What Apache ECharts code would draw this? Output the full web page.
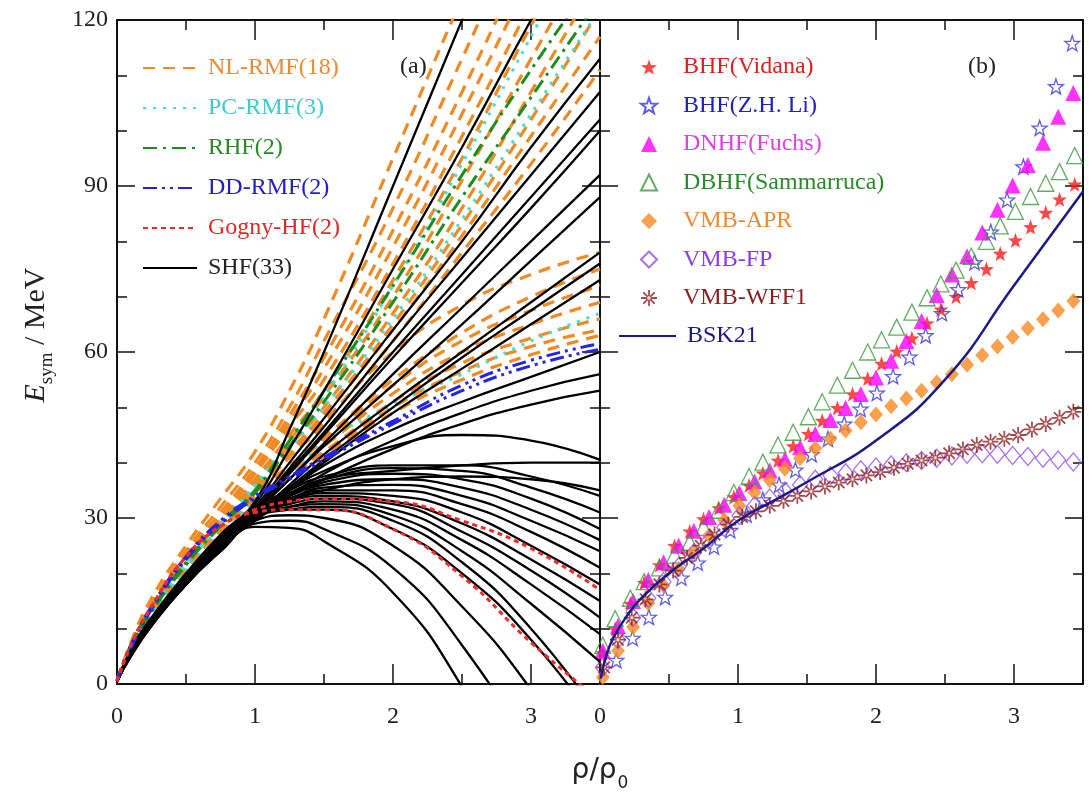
<!DOCTYPE html>
<html><head><meta charset="utf-8">
<script src="https://cdn.jsdelivr.net/npm/echarts/dist/echarts.min.js"></script>
<style>html,body{margin:0;padding:0;background:#fff}#c{width:1089px;height:803px}</style>
</head><body><div id="c"></div>
<script>
// ---------- Panel (a): density grid and curves ----------
const RHO = [0, 0.1, 0.25, 0.5, 0.75, 1, 1.25, 1.5, 2, 2.5, 3, 3.5];
const NL_RMF = [
  [0.5, 7.5, 15.5, 25, 33.5, 42, 53, 66, 95, 124, 152, 180],
  [0.5, 7, 14.5, 24, 32, 40, 50, 62, 86, 113, 140, 165],
  [0.5, 7, 14, 23.5, 31, 39, 48.5, 59, 82, 107, 133, 158],
  [0.5, 7, 14, 23, 30.5, 38.5, 47.5, 57, 79, 103, 128, 153],
  [0.5, 7, 13.5, 23, 30, 38, 46.5, 55, 76, 99, 123, 147],
  [0.5, 6.5, 13.5, 22.5, 29.5, 37, 45, 53, 73, 95, 119, 142],
  [0.5, 6.5, 13, 22, 29, 36.5, 44, 52, 70, 91, 113, 135],
  [0.5, 6.5, 13, 22, 29, 36, 43, 50, 67, 86, 107, 128],
  [0.5, 6.5, 13, 21.5, 28.5, 35.5, 42, 49, 65, 83, 102, 122],
  [0.5, 6.5, 12.5, 21.5, 28.5, 35, 41.5, 48.5, 64, 81, 99, 117],
  [0.5, 6.5, 12.5, 21, 28, 35, 41, 47, 62, 78, 94, 111],
  [0.5, 6, 12.5, 21, 28, 34.5, 41, 47.5, 60, 68.5, 74, 78],
  [0.5, 6, 12.5, 21, 28, 34.5, 39.5, 44.5, 55, 63.5, 70, 75],
  [0.5, 6, 12, 20.5, 27.5, 34, 39, 44, 54, 62, 67.5, 72],
  [0.5, 6, 12, 20.5, 27.5, 33.5, 38.5, 43, 52.5, 60, 65, 69],
  [0.5, 6, 12, 20.5, 27, 33.5, 38, 42, 51, 58, 62.5, 66],
  [0.5, 6, 12, 20, 27, 33, 37.5, 41.5, 50, 56.5, 61, 64],
  [0.5, 6, 12, 20, 27, 33, 37, 41, 49, 55, 59.5, 63]
];
const PC_RMF = [
  [0.5, 6.5, 13, 22, 29, 36, 44, 52, 72, 94, 117, 140],
  [0.5, 6.5, 13, 21.5, 28.5, 35.5, 42.5, 50, 66, 84, 103, 122],
  [0.5, 6, 12, 20.5, 27, 33, 38, 43.5, 50.5, 56, 62, 67]
];
const RHF = [
  [0.5, 7, 13.5, 22, 29, 35, 44, 53, 72, 92, 111, 129],
  [0.5, 6.5, 13, 21.5, 28.5, 34.5, 43, 51, 69, 88, 106, 124]
];
const DD_RMF = [
  [0.5, 7, 14, 23, 29.5, 34, 37.5, 41, 47.5, 54, 58.5, 61.5],
  [0.5, 6.5, 13.5, 22.5, 29, 33.5, 37, 40.5, 47, 53, 57.5, 60.5]
];
const GOGNY_HF = [
  [0.5, 7, 14, 23, 28.5, 31.5, 33, 33.5, 33, 29.5, 24.5, 17],
  [0.5, 7, 14, 23, 28.5, 31, 31.5, 31.5, 28, 19.5, 7.5, -3]
];
const SHF = [
  [0.5, 6, 12, 20, 27, 33, 46, 60, 90, 120, 150, 180],
  [0.5, 6, 12, 19.5, 26.5, 32.5, 42.5, 53, 75, 97, 120, 142],
  [0.5, 6, 11.5, 19.5, 26, 32, 40, 48, 64, 80, 97, 113],
  [0.5, 5.5, 11.5, 19, 26, 31.5, 39, 46.5, 62, 77, 92, 107],
  [0.5, 5.5, 11.5, 19, 25.5, 31.5, 38.5, 45.5, 60, 74, 88, 102],
  [0.5, 5.5, 11, 19, 25.5, 31, 38, 45, 59, 72.5, 86, 100],
  [0.5, 5.5, 11, 18.5, 25, 31, 37, 43.5, 56, 68, 80, 92],
  [0.5, 5.5, 11, 18.5, 25, 31, 37, 43, 54, 65, 76.5, 88],
  [0.5, 5.5, 11, 18.5, 25, 30.5, 36, 41.5, 51, 60, 69, 78],
  [0.5, 5.5, 11, 18.5, 25, 30.5, 35.5, 40.5, 50, 59, 67.5, 76],
  [0.5, 5.5, 11, 18.5, 25, 30, 35, 40, 49, 57, 65, 73],
  [0.5, 5.5, 11, 18.5, 24.5, 30.5, 35, 39.5, 46, 51, 55.5, 60],
  [0.5, 5.5, 11, 18.5, 24.5, 30, 34, 38, 44, 49, 53, 56],
  [0.5, 5.5, 11, 18.5, 24.5, 30, 34, 37, 42.5, 47, 50.5, 53],
  [0.5, 5.5, 11, 18.5, 24.5, 30, 35, 38.5, 43, 45, 44, 40.5],
  [0.5, 5.5, 11, 18, 24.5, 30, 34, 37, 38.5, 39.5, 40, 40],
  [0.5, 5.5, 11, 18, 24.5, 29.5, 33, 35, 37, 37.5, 37, 35],
  [0.5, 5.5, 11, 18.5, 25, 31.5, 35, 37.5, 39.5, 39.5, 37.5, 34],
  [0.5, 5.5, 11, 18.5, 25, 31, 34.5, 37, 39, 38.5, 35.5, 31],
  [0.5, 5.5, 11, 18.5, 25, 31, 34, 36.5, 38, 37, 33.5, 28],
  [0.5, 5.5, 11, 18.5, 25, 31, 34, 36, 37, 35.5, 31.5, 26],
  [0.5, 5.5, 11, 18.5, 25, 31, 33.5, 35.5, 36, 34, 29.5, 24],
  [0.5, 5.5, 11, 18.5, 25, 31, 33.5, 35, 35, 32.5, 27.5, 21],
  [0.5, 5.5, 11, 18.5, 24.5, 30.5, 33, 34.5, 34, 31, 25, 18],
  [0.5, 5.5, 11, 18.5, 24.5, 30.5, 33, 34, 33, 29, 22.5, 15],
  [0.5, 5.5, 11, 18, 24.5, 30.5, 32.5, 33.5, 32.5, 27.5, 20.5, 12],
  [0.5, 5.5, 11, 18, 24.5, 30, 32, 33, 31.5, 26, 18, 9],
  [0.5, 5.5, 11, 18, 24.5, 30, 32, 32.5, 30.5, 24, 14.5, 4],
  [0.5, 5.5, 11, 18, 24.5, 30, 31.5, 32, 29.5, 22, 10, -6],
  [0.5, 5.5, 11, 18, 24.5, 30, 31.5, 31.5, 28, 20, 8, -8],
  [0.5, 5, 10.5, 18, 24, 29.5, 30.5, 30, 25, 14, -1, -20],
  [0.5, 5, 10.5, 18, 24, 29, 29.5, 28, 21, 7, -13, -38],
  [0.5, 5, 10.5, 18, 24, 28.4, 28.2, 25.8, 16.5, -0.5, -24, -50]
];

// ---------- Panel (b) ----------
const RHO_A = [0.02, 0.11, 0.22, 0.32, 0.43, 0.54, 0.65, 0.75, 0.86, 0.97, 1.08, 1.18, 1.29, 1.40, 1.51, 1.61, 1.72, 1.83, 1.94, 2.04, 2.15, 2.26, 2.37, 2.47, 2.58, 2.69, 2.80, 2.90, 3.01, 3.12, 3.23, 3.33, 3.44];
const BHF_VIDANA = [5.6, 10, 14.5, 18.3, 21.5, 25, 27.6, 29.8, 31.8, 33.8, 35.9, 38.1, 40.4, 43, 45.2, 47.6, 49.9, 52.4, 55.2, 57.9, 60.1, 62.5, 65.2, 67.7, 70, 72.5, 75, 77.8, 80.2, 82.6, 85.2, 87.6, 90.3];
const DBHF_SAMMARRUCA = [7, 11.8, 15.5, 18.5, 21, 23.3, 25.6, 28.3, 31.4, 34.6, 37.5, 40.1, 43.2, 45.5, 48.3, 51, 54, 56.7, 60, 62.2, 64.5, 67.2, 69.8, 72.3, 74.8, 77.3, 80, 82.8, 85.4, 88.1, 90.5, 92.6, 95.5];
const RHO_LI = [0.118, 0.236, 0.354, 0.472, 0.59, 0.708, 0.826, 0.944, 1.062, 1.18, 1.298, 1.416, 1.534, 1.652, 1.77, 1.888, 2.006, 2.124, 2.242, 2.36, 2.478, 2.596, 2.714, 2.832, 2.95, 3.068, 3.186, 3.304, 3.422];
const BHF_LI = [4.3, 8.3, 12.1, 15.7, 19.2, 21.9, 24.8, 27.8, 30.6, 33.3, 36, 38.7, 41.5, 44.3, 47, 49.7, 52.6, 55.6, 59.1, 63, 67, 71.3, 76.2, 81.7, 87.5, 93.5, 100.5, 108, 115.8];
const RHO_VMB = [0.02, 0.13, 0.24, 0.35, 0.46, 0.57, 0.68, 0.79, 0.90, 1.01, 1.12, 1.23, 1.34, 1.45, 1.56, 1.67, 1.78, 1.89, 2.00, 2.11, 2.22, 2.33, 2.44, 2.55, 2.66, 2.77, 2.88, 2.99, 3.10, 3.21, 3.32, 3.43];
const DNHF_FUCHS = [6, 10.5, 15, 18.8, 22, 25, 27.7, 30.2, 32.4, 34.5, 36.6, 38.6, 40.6, 42.8, 45.2, 47.7, 49.9, 52.4, 55.4, 58.4, 62, 65.6, 70.3, 74, 77.3, 81.6, 85.7, 90.1, 93.8, 97.8, 102.5, 106.8];
const VMB_APR = [1.2, 6, 10.3, 14.6, 17.8, 20.8, 23.8, 26.8, 29.6, 32.2, 34.6, 36.8, 38.9, 40.8, 42.6, 44.3, 45.8, 47.3, 48.7, 50.2, 51.6, 53, 54.5, 56, 57.7, 59.4, 61, 62.7, 64.3, 65.9, 67.5, 69.2];
const VMB_FP = [3, 8, 12, 15.5, 18.5, 21.2, 23.7, 26, 28.3, 30.4, 32.2, 33.6, 34.9, 36, 37, 37.7, 38.2, 38.7, 39.2, 39.6, 40, 40.4, 40.8, 41.2, 41.5, 41.6, 41.5, 41.3, 41.1, 40.8, 40.5, 40.1];
const RHO_WFF = [0.03, 0.13, 0.23, 0.33, 0.43, 0.53, 0.63, 0.73, 0.83, 0.93, 1.03, 1.13, 1.23, 1.33, 1.43, 1.53, 1.63, 1.73, 1.83, 1.93, 2.03, 2.13, 2.23, 2.33, 2.43, 2.53, 2.63, 2.73, 2.83, 2.93, 3.03, 3.13, 3.23, 3.33, 3.43];
const VMB_WFF1 = [3, 8, 12, 15.3, 18, 20.5, 22.8, 25, 27, 28.8, 30.2, 31.2, 32.2, 33.1, 34, 34.8, 35.7, 36.4, 37, 37.7, 38.3, 39.1, 39.8, 40.4, 40.9, 41.7, 42.4, 43.2, 43.8, 44.3, 45, 46, 47, 48.1, 49.2];
const RHO_BSK = [0.005, 0.05, 0.1, 0.2, 0.3, 0.5, 0.75, 1, 1.25, 1.5, 2, 2.5, 3, 3.5];
const BSK21 = [1, 5.5, 8.5, 12.5, 15.5, 20, 24.5, 29.5, 33, 36.5, 44, 55, 72, 89];

const X_MIN = 0, X_MAX = 3.5, Y_MIN = 0, Y_MAX = 120;
const SERIF = 'Liberation Serif';

const STAR = 'path://M0,-10L2.35,-3.24L9.51,-3.09L3.8,1.24L5.88,8.09L0,4.4L-5.88,8.09L-3.8,1.24L-9.51,-3.09L-2.35,-3.24Z';
const ASTER = 'path://M-10,-1.1L10,-1.1L10,1.1L-10,1.1Z M-1.1,-10L1.1,-10L1.1,10L-1.1,10Z M6.29,7.85L7.85,6.29L-6.29,-7.85L-7.85,-6.29Z M7.85,-6.29L6.29,-7.85L-7.85,6.29L-6.29,7.85Z';

const series = [];
function addLines(name, curves, color, width, dash, z) {
  curves.forEach(vals => series.push({
    type: 'line', name, xAxisIndex: 0, yAxisIndex: 0,
    data: RHO.map((x, i) => [x, vals[i]]),
    symbol: 'none', showSymbol: false, smooth: 0.5, clip: true, silent: true,
    lineStyle: { color, width, type: dash, cap: 'butt' }, itemStyle: { color }, z
  }));
}
addLines('NL-RMF(18)', NL_RMF, '#f28a24', 3.2, [12, 8], 2);
addLines('PC-RMF(3)', PC_RMF, '#3fe0d8', 3, [3, 7], 3);
addLines('RHF(2)', RHF, '#1f8c1f', 3, [14, 6, 3, 6], 4);
addLines('SHF(33)', SHF, '#000000', 2.3, 'solid', 5);
addLines('DD-RMF(2)', DD_RMF, '#2424e6', 3, [14, 5, 3, 5, 3, 5], 6);
addLines('Gogny-HF(2)', GOGNY_HF, '#f22a2a', 3, [5, 4], 7);

function addScatter(name, xs, ys, symbol, size, fill, stroke, bw) {
  series.push({
    type: 'scatter', name, xAxisIndex: 4, yAxisIndex: 4, silent: true, clip: true,
    data: xs.map((x, i) => [x, ys[i]]), symbol, symbolSize: size,
    itemStyle: { color: fill, borderColor: stroke, borderWidth: bw }
  });
}
addScatter('BHF(Vidana)', RHO_A, BHF_VIDANA, STAR, 15, '#ff1a1a', '#ff1a1a', 0);
addScatter('BHF(Z.H. Li)', RHO_LI, BHF_LI, STAR, 15, 'rgba(255,255,255,0)', '#3535e0', 1.3);
addScatter('DNHF(Fuchs)', RHO_VMB, DNHF_FUCHS, 'triangle', 16, '#ff00ff', '#ff00ff', 0);
addScatter('DBHF(Sammarruca)', RHO_A, DBHF_SAMMARRUCA, 'triangle', 16, 'rgba(255,255,255,0)', '#3a9a3a', 1.3);
addScatter('VMB-APR', RHO_VMB, VMB_APR, 'diamond', [14, 16], '#f7891f', '#f7891f', 0);
addScatter('VMB-FP', RHO_VMB, VMB_FP, 'diamond', [15, 18], 'rgba(255,255,255,0)', '#9050f0', 1.3);
addScatter('VMB-WFF1', RHO_WFF, VMB_WFF1, ASTER, 16, '#8b1a1a', '#8b1a1a', 0);
series.push({
  type: 'line', name: 'BSK21', xAxisIndex: 4, yAxisIndex: 4, silent: true, clip: true,
  data: RHO_BSK.map((x, i) => [x, BSK21[i]]), symbol: 'none', showSymbol: false,
  smooth: 0.5, lineStyle: { color: '#1a1a8a', width: 2.5 }, itemStyle: { color: '#1a1a8a' }, z: 10
});

const AX = { color: '#111', width: 2 };
function xAx(grid, pos, interval, len, labels, line) {
  return {
    type: 'value', gridIndex: grid, position: pos, min: X_MIN, max: X_MAX, interval,
    splitLine: { show: false },
    axisLine: { show: line, onZero: false, lineStyle: AX },
    axisTick: { show: true, inside: true, length: len, lineStyle: { color: '#111', width: 1.5 } },
    axisLabel: { show: labels, margin: 21, fontFamily: SERIF, fontSize: 24, color: '#222', showMaxLabel: false }
  };
}
function yAx(grid, pos, interval, len, labels, line) {
  return {
    type: 'value', gridIndex: grid, position: pos, min: Y_MIN, max: Y_MAX, interval,
    splitLine: { show: false },
    axisLine: { show: line, onZero: false, lineStyle: AX },
    axisTick: { show: true, inside: true, length: len, lineStyle: { color: '#111', width: 1.5 } },
    axisLabel: { show: labels, margin: 9, fontFamily: SERIF, fontSize: 24, color: '#222' }
  };
}
const GL = { left: 117, top: 20, width: 483, height: 664 };
const GR = { left: 600, top: 20, width: 483, height: 664 };

const lineLegendBase = {
  orient: 'vertical', padding: 0, selectedMode: false, itemGap: 16,
  itemStyle: { opacity: 0 },
  textStyle: { fontFamily: SERIF, fontSize: 24, lineHeight: 24, padding: [0, 0, 0, 6] }
};

const option = {
  animation: false,
  backgroundColor: '#fff',
  grid: [
    Object.assign({}, GL), Object.assign({}, GL),
    Object.assign({}, GR), Object.assign({}, GR)
  ],
  xAxis: [
    xAx(0, 'bottom', 1, 20, true, true), xAx(0, 'top', 1, 20, false, true),
    xAx(1, 'bottom', 0.5, 10, false, false), xAx(1, 'top', 0.5, 10, false, false),
    xAx(2, 'bottom', 1, 20, true, true), xAx(2, 'top', 1, 20, false, true),
    xAx(3, 'bottom', 0.5, 10, false, false), xAx(3, 'top', 0.5, 10, false, false)
  ],
  yAxis: [
    yAx(0, 'left', 30, 18, true, true), yAx(0, 'right', 30, 18, false, true),
    yAx(1, 'left', 10, 10, false, false), yAx(1, 'right', 10, 10, false, false),
    yAx(2, 'left', 30, 18, false, true), yAx(2, 'right', 30, 18, false, true),
    yAx(3, 'left', 10, 10, false, false), yAx(3, 'right', 10, 10, false, false)
  ],
  legend: [
    Object.assign({}, lineLegendBase, {
      left: 142, top: 56, itemWidth: 54, itemHeight: 14,
      data: [
        { name: 'NL-RMF(18)', textStyle: { color: '#ee8a30' } },
        { name: 'PC-RMF(3)', textStyle: { color: '#3ccccc' } },
        { name: 'RHF(2)', textStyle: { color: '#2a8a2a' } },
        { name: 'DD-RMF(2)', textStyle: { color: '#2020c8' } },
        { name: 'Gogny-HF(2)', textStyle: { color: '#e02828' } },
        { name: 'SHF(33)', textStyle: { color: '#222' } }
      ]
    }),
    {
      orient: 'vertical', padding: 0, selectedMode: false, itemGap: 14.5,
      left: 640, top: 55, itemWidth: 16, itemHeight: 16,
      textStyle: { fontFamily: SERIF, fontSize: 24, lineHeight: 24, padding: [0, 0, 0, 21] },
      data: [
        { name: 'BHF(Vidana)', textStyle: { color: '#e02020' } },
        { name: 'BHF(Z.H. Li)', textStyle: { color: '#2020c0' } },
        { name: 'DNHF(Fuchs)', textStyle: { color: '#e040e0' } },
        { name: 'DBHF(Sammarruca)', textStyle: { color: '#2a8a2a' } },
        { name: 'VMB-APR', textStyle: { color: '#f08a30' } },
        { name: 'VMB-FP', textStyle: { color: '#8a3cf0' } },
        { name: 'VMB-WFF1', textStyle: { color: '#8b2020' } }
      ]
    },
    Object.assign({}, lineLegendBase, {
      left: 618, top: 324, itemWidth: 57, itemHeight: 14,
      data: [{ name: 'BSK21', textStyle: { color: '#1a1a80' } }]
    })
  ],
  graphic: [
    { type: 'text', left: 400, top: 55, style: { text: '(a)', font: '24px "Liberation Serif"', fill: '#222' } },
    { type: 'text', left: 968, top: 55, style: { text: '(b)', font: '24px "Liberation Serif"', fill: '#222' } },
    { type: 'text', x: 600, y: 772, style: {
        text: '{r|ρ/ρ}{z|0}', align: 'center', verticalAlign: 'middle',
        rich: {
          r: { fontFamily: 'DejaVu Sans', fontSize: 28, lineHeight: 30, verticalAlign: 'top', fill: '#222' },
          z: { fontFamily: 'DejaVu Sans', fontSize: 17, lineHeight: 17, padding: [18, 0, 0, 1], verticalAlign: 'top', fill: '#222' }
        } } },
    { type: 'text', x: 36, y: 335, rotation: Math.PI / 2, style: {
        text: '{e|E}{s|sym}{m| / MeV}', align: 'center', verticalAlign: 'middle',
        rich: {
          e: { fontFamily: SERIF, fontStyle: 'italic', fontSize: 30, lineHeight: 30, verticalAlign: 'top', fill: '#222' },
          s: { fontFamily: SERIF, fontSize: 19, lineHeight: 19, padding: [17, 0, 0, 0], verticalAlign: 'top', fill: '#222' },
          m: { fontFamily: SERIF, fontSize: 30, lineHeight: 30, verticalAlign: 'top', fill: '#222' }
        } } }
  ],
  series
};
const chart = echarts.init(document.getElementById('c'), null, { renderer: 'canvas' });
chart.setOption(option);
</script></body></html>
